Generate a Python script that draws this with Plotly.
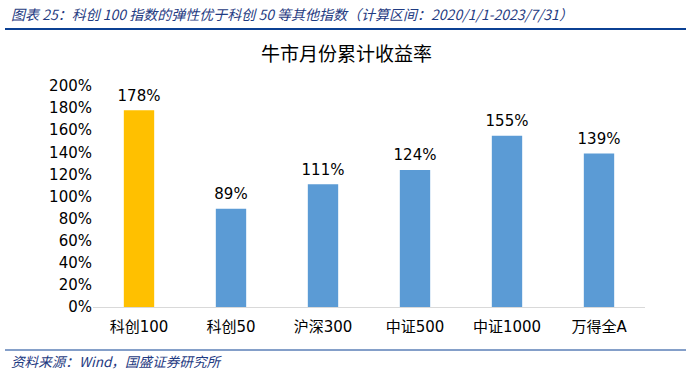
import plotly.graph_objects as go

categories = ["科创100", "科创50", "沪深300", "中证500", "中证1000", "万得全A"]
values = [178, 89, 111, 124, 155, 139]
colors = ["#FFC000", "#5B9BD5", "#5B9BD5", "#5B9BD5", "#5B9BD5", "#5B9BD5"]
tick_vals = list(range(0, 201, 20))
tick_text = [f"{v}%" for v in tick_vals]

W, H = 692, 376
L, R = 93, 645
T, B = 86, 307

def px(x):
    return (x - L) / (R - L)

def py(y):
    return (B - y) / (B - T)

FONT = "DejaVu Sans, Noto Sans CJK SC, sans-serif"

fig = go.Figure()
fig.add_trace(go.Bar(
    x=categories, y=values,
    marker=dict(color=colors, line=dict(width=0)),
    width=0.33,
    hoverinfo="x+y",
))
fig.add_trace(go.Scatter(
    x=categories, y=values,
    mode="markers+text",
    marker=dict(size=8, opacity=0),
    text=[f"{v}%" for v in values],
    textposition="top center",
    textfont=dict(size=15, color="#000000", family=FONT),
    cliponaxis=False,
    hoverinfo="skip",
))

fig.update_layout(
    width=W, height=H,
    margin=dict(l=L, r=W - R, t=T, b=H - B),
    paper_bgcolor="white", plot_bgcolor="white",
    showlegend=False,
    font=dict(family=FONT, color="#000000"),
    xaxis=dict(showgrid=False, showline=True, linecolor="#D9D9D9", linewidth=1,
               ticks="", ticklabelstandoff=6,
               tickfont=dict(size=15, color="#000000"), fixedrange=True),
    yaxis=dict(range=[0, 200], tickvals=tick_vals, ticktext=tick_text,
               showgrid=False, showline=False, zeroline=False, ticks="",
               tickfont=dict(size=15, color="#000000"), fixedrange=True),
    shapes=[
        dict(type="line", xref="paper", yref="paper", x0=px(5), x1=px(686), y0=py(29), y1=py(29),
             line=dict(color="#0B4093", width=2)),
        dict(type="line", xref="paper", yref="paper", x0=px(5), x1=px(686), y0=py(350), y1=py(350),
             line=dict(color="#0B4093", width=1)),
    ],
    annotations=[
        dict(text="<i>图表 25：科创 100 指数的弹性优于科创 50 等其他指数（计算区间：2020/1/1-2023/7/31）</i>",
             xref="paper", yref="paper", x=px(9), y=py(14), xanchor="left", yanchor="middle",
             showarrow=False, font=dict(size=14, color="#1F3B82", family="Noto Sans CJK SC, sans-serif")),
        dict(text="牛市月份累计收益率", xref="paper", yref="paper", x=px(346), y=py(52),
             xanchor="center", yanchor="middle", showarrow=False,
             font=dict(size=19, color="#000000", family="Noto Sans CJK SC, sans-serif")),
        dict(text="<i>资料来源：Wind，国盛证券研究所</i>",
             xref="paper", yref="paper", x=px(9), y=py(361), xanchor="left", yanchor="middle",
             showarrow=False, font=dict(size=13.6, color="#1F3B82", family="Noto Sans CJK SC, sans-serif")),
    ],
)

fig.write_html("out.html", config={"displayModeBar": False},
               post_script="document.body.style.margin='0';document.body.style.padding='0';")
